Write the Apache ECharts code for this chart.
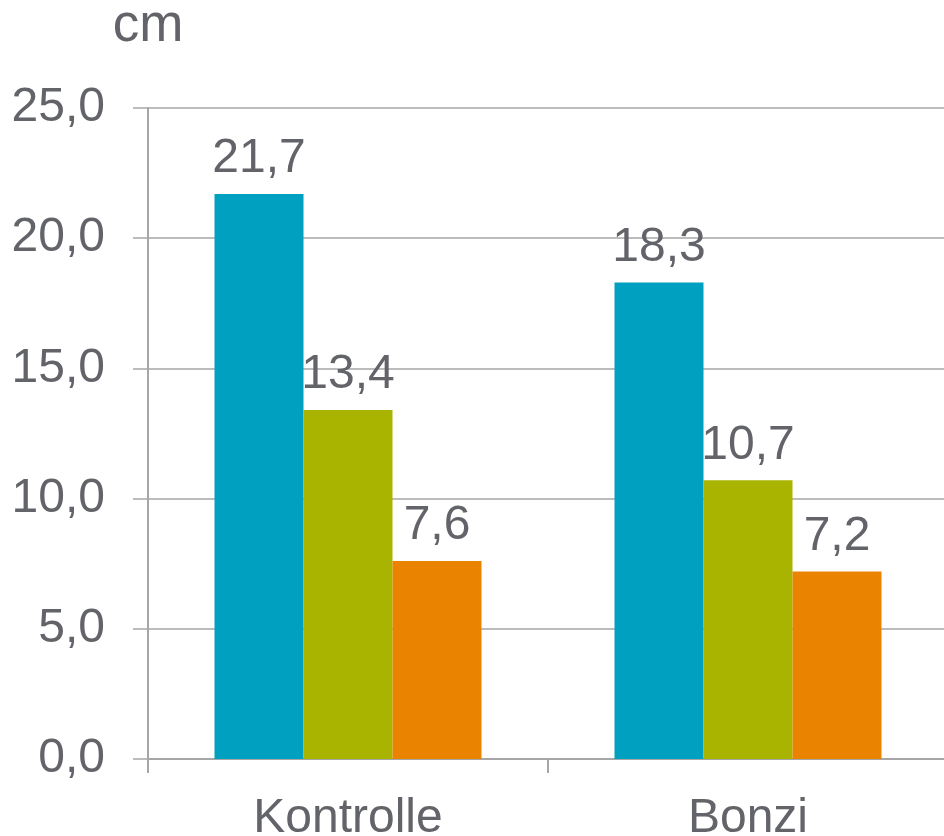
<!DOCTYPE html>
<html>
<head>
<meta charset="utf-8">
<script src="https://cdn.jsdelivr.net/npm/echarts@6/dist/echarts.min.js"></script>
<style>
  html, body { margin: 0; padding: 0; background: #fff; }
  #chart { width: 944px; height: 836px; }
</style>
</head>
<body>
<div id="chart"></div>
<script>
const categories = ["Kontrolle", "Bonzi"]
const seriesA = [21.7, 18.3]
const seriesB = [13.4, 10.7]
const seriesC = [7.6, 7.2]
const colors = ["#00A1C0", "#A9B400", "#EA8300"]

const textColor = "#636469"
const lineColor = "#A6A6A6"
const fontFamily = "'Liberation Sans', Arial, sans-serif"

// German decimal comma
const fmt = (v) => v.toFixed(1).replace(".", ",")

let myChart = echarts.init(document.getElementById("chart"))

const makeSeries = (values, color) => {
  return {
    type: "bar",
    data: values,
    barWidth: 89,
    barGap: "0%",
    itemStyle: { color: color },
    label: {
      show: true,
      position: "top",
      distance: 11,
      color: textColor,
      fontSize: 48,
      fontFamily: fontFamily,
      formatter: (p) => fmt(p.value)
    }
  }
}

const option = {
  animation: false,
  // plot runs past the right edge, like the original
  grid: {
    left: 148, width: 800, top: 108, height: 651,
    containLabel: false, outerBoundsMode: "none"
  },
  xAxis: {
    type: "category",
    data: categories,
    axisLine: { lineStyle: { color: lineColor, width: 2 } },
    axisTick: { show: true, length: 14, lineStyle: { color: lineColor, width: 2 } },
    axisLabel: { color: textColor, fontSize: 48, fontFamily: fontFamily, margin: 36 }
  },
  yAxis: {
    type: "value",
    min: 0,
    max: 25,
    interval: 5,
    name: "cm",
    nameLocation: "end",
    nameGap: 55,
    nameTextStyle: { color: textColor, fontSize: 53, fontFamily: fontFamily },
    axisLine: { show: true, lineStyle: { color: lineColor, width: 2 } },
    axisTick: { show: true, length: 15, lineStyle: { color: lineColor, width: 1.5 } },
    splitLine: { lineStyle: { color: lineColor, width: 1.5 } },
    axisLabel: {
      color: textColor,
      fontSize: 48,
      fontFamily: fontFamily,
      margin: 43,
      formatter: (v) => fmt(v)
    }
  },
  series: [
    makeSeries(seriesA, colors[0]),
    makeSeries(seriesB, colors[1]),
    makeSeries(seriesC, colors[2])
  ]
}

myChart.setOption(option)
</script>
</body>
</html>
